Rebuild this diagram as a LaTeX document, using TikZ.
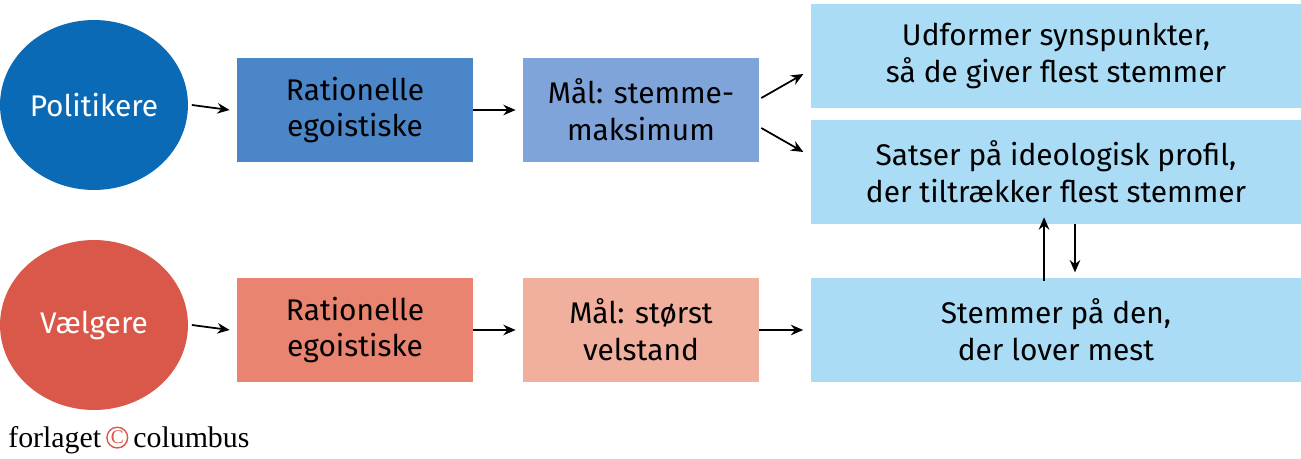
\documentclass[tikz,border=0pt]{standalone}
\usepackage{fontspec}
\setmainfont{Fira Sans}
\newfontfamily\logofont{Liberation Serif}
\usetikzlibrary{shapes.geometric,arrows.meta}
\definecolor{polblue}{HTML}{0A6AB5}
\definecolor{valred}{HTML}{D9584A}
\definecolor{boxblue}{HTML}{4A86C8}
\definecolor{goalblue}{HTML}{7EA4DA}
\definecolor{lightblue}{HTML}{AADCF6}
\definecolor{boxred}{HTML}{E8846F}
\definecolor{goalred}{HTML}{F1B09E}
\tikzset{
  actor/.style={ellipse,minimum width=3.76cm,minimum height=3.4cm,text=white,font=\fontsize{17}{20}\selectfont,inner sep=0pt},
  pbox/.style={minimum width=4.72cm,minimum height=2.1cm,align=center,font=\fontsize{17}{21}\selectfont,inner sep=0pt},
  wide/.style={minimum width=9.82cm,minimum height=2.08cm,align=center,fill=lightblue,font=\fontsize{17}{21}\selectfont,inner sep=0pt},
  arr/.style={-{Stealth[length=7pt,width=6pt]},line width=1pt}
}
\begin{document}
\begin{tikzpicture}[x=0.02cm,y=-0.02cm]
    \useasboundingbox (0,0) rectangle (1301,459);
    
    \node[actor,fill=polblue] (pol) at (94,105) {Politikere};
    \node[actor,fill=valred] (val) at (94,325) {Vælgere};
    
    \node[pbox,fill=boxblue] (prat) at (355,110) {Rationelle\\egoistiske};
    \node[pbox,fill=goalblue] (pgoal) at (641,110) {Mål: stemme-\\maksimum};
    \node[pbox,fill=boxred] (vrat) at (355,330) {Rationelle\\egoistiske};
    \node[pbox,fill=goalred] (vgoal) at (641,330) {Mål: størst\\velstand};
    
    \node[wide] (form) at (1056,56) {Udformer synspunkter,\\så de giver flest stemmer};
    \node[wide] (prof) at (1056,172) {Satser på ideologisk profil,\\der tiltrækker flest stemmer};
    \node[wide] (vote) at (1056,330) {Stemmer på den,\\der lover mest};
    
    \draw[arr] ([xshift=2pt]pol.east) -- ([xshift=-4pt]prat.west);
    \draw[arr] (prat) -- ([xshift=-4pt]pgoal.west);
    \draw[arr] ([xshift=2pt]val.east) -- ([xshift=-4pt]vrat.west);
    \draw[arr] (vrat) -- ([xshift=-4pt]vgoal.west);
    \draw[arr] (vgoal) -- ([xshift=-4pt]vote.west);
    \draw[arr] (pgoal.east) ++(2,-12) coordinate (a1) -- ++(42,-24);
    \draw[arr] (pgoal.east) ++(2,18) coordinate (a2) -- ++(42,24);
    \draw[arr] ([xshift=-6.8pt,yshift=-2pt]vote.north) -- ([xshift=-6.8pt,yshift=4pt]prof.south);
    \draw[arr] ([xshift=10.8pt]prof.south) -- ([xshift=10.8pt,yshift=3pt]vote.north);
    
    \node[anchor=west,font=\logofont\fontsize{17}{20}\selectfont,inner sep=0pt] (logo) at (8,440) {forlaget\,\textcolor{valred}{\raisebox{-0.1ex}{\tikz\node[circle,draw=valred,line width=0.8pt,inner sep=0.5pt,font=\logofont\fontsize{11}{12}\selectfont]{C};}}\,columbus};
\end{tikzpicture}
\end{document}
